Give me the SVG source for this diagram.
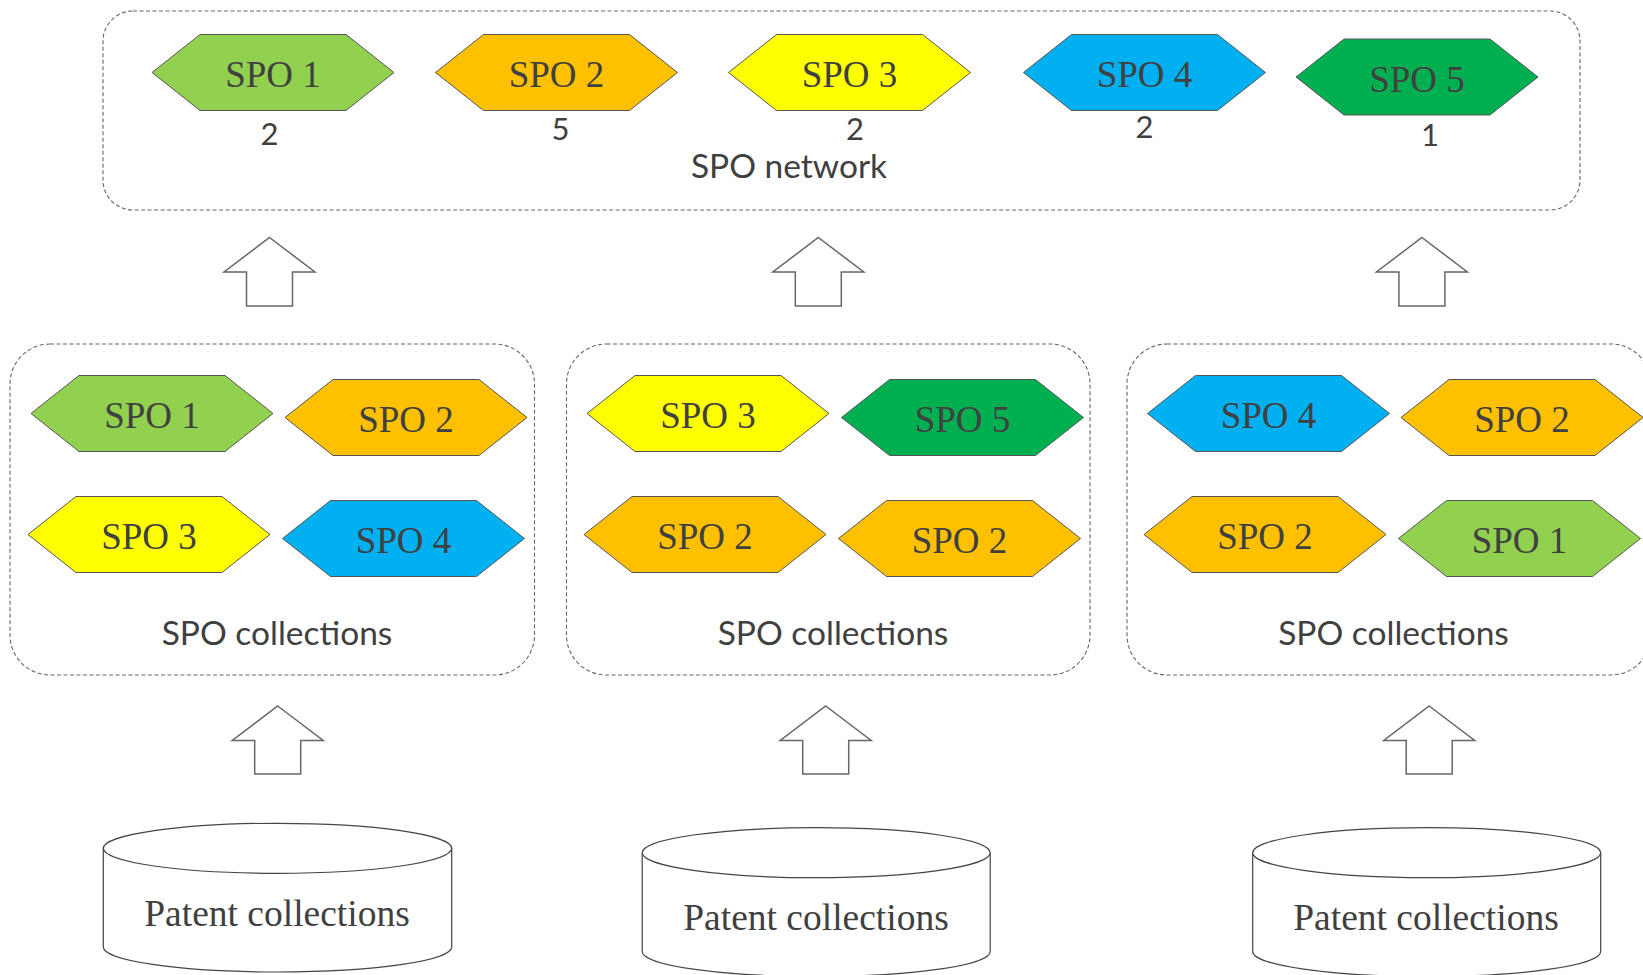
<svg xmlns="http://www.w3.org/2000/svg" xmlns:xlink="http://www.w3.org/1999/xlink" width="1643" height="975" viewBox="0 0 1643 975">
<style>
.box{fill:none;stroke:#666;stroke-width:1.1;stroke-dasharray:4 2.5}
.hex{stroke:#555;stroke-width:1}
.g{fill:#92D050}.o{fill:#FFC000}.y{fill:#FFFF00}.b{fill:#00B0F0}.dg{fill:#00B050}
.ht{font-family:"Liberation Serif","Times New Roman",serif;font-size:37px;fill:#404040;text-anchor:middle}
.st{font-family:Lato,"Liberation Sans",sans-serif;font-size:33.5px;fill:#404040;text-anchor:middle}
.nt{font-family:Lato,"Liberation Sans",sans-serif;font-size:31px;fill:#404040;text-anchor:middle}
.pt{font-family:"Liberation Serif","Times New Roman",serif;font-size:37.5px;fill:#404040;text-anchor:middle}
.arr{fill:#fff;stroke:#666;stroke-width:1.5;stroke-linejoin:miter}
.cyl{fill:#fff;stroke:#444;stroke-width:1.2}
</style>
<defs>
<polygon id="hex" points="0,38 48,0 194,0 242,38 194,76 48,76"/>
</defs>
<rect width="1643" height="975" fill="#fff"/>

<g id="spo-network">
<rect class="box" x="103" y="11" width="1477" height="199" rx="30"/>
<text class="st" x="789" y="178">SPO network</text>
</g>
<g id="net-spo1"><use href="#hex" class="hex g" x="152" y="34.5"/><text class="ht" x="273" y="87">SPO 1</text><text class="nt" x="269.5" y="145">2</text></g>
<g id="net-spo2"><use href="#hex" class="hex o" x="435.5" y="34.5"/><text class="ht" x="556.5" y="87">SPO 2</text><text class="nt" x="560.5" y="140">5</text></g>
<g id="net-spo3"><use href="#hex" class="hex y" x="728.5" y="34.5"/><text class="ht" x="849.5" y="87">SPO 3</text><text class="nt" x="855" y="140">2</text></g>
<g id="net-spo4"><use href="#hex" class="hex b" x="1023.5" y="34.5"/><text class="ht" x="1144.5" y="87">SPO 4</text><text class="nt" x="1144.5" y="137.5">2</text></g>
<g id="net-spo5"><use href="#hex" class="hex dg" x="1296" y="39"/><text class="ht" x="1417" y="91.5">SPO 5</text><text class="nt" x="1430" y="145.5">1</text></g>

<g id="collection-1">
<rect class="box" x="10" y="344" width="524.5" height="331" rx="40"/>
<use href="#hex" class="hex g" x="31" y="375.5"/><text class="ht" x="152" y="428">SPO 1</text>
<use href="#hex" class="hex o" x="285" y="379.5"/><text class="ht" x="406" y="432">SPO 2</text>
<use href="#hex" class="hex y" x="28" y="496.5"/><text class="ht" x="149" y="549">SPO 3</text>
<use href="#hex" class="hex b" x="282.5" y="500.5"/><text class="ht" x="403.5" y="553">SPO 4</text>
<text class="st" x="277" y="645">SPO collections</text>
</g>
<g id="collection-2">
<rect class="box" x="566.5" y="344" width="523.5" height="331" rx="40"/>
<use href="#hex" class="hex y" x="587" y="375.5"/><text class="ht" x="708" y="428">SPO 3</text>
<use href="#hex" class="hex dg" x="841.5" y="379.5"/><text class="ht" x="962.5" y="432">SPO 5</text>
<use href="#hex" class="hex o" x="584" y="496.5"/><text class="ht" x="705" y="549">SPO 2</text>
<use href="#hex" class="hex o" x="838.5" y="500.5"/><text class="ht" x="959.5" y="553">SPO 2</text>
<text class="st" x="833" y="645">SPO collections</text>
</g>
<g id="collection-3">
<rect class="box" x="1127" y="344" width="524" height="331" rx="40"/>
<use href="#hex" class="hex b" x="1147.5" y="375.5"/><text class="ht" x="1268.5" y="428">SPO 4</text>
<use href="#hex" class="hex o" x="1401" y="379.5"/><text class="ht" x="1522" y="432">SPO 2</text>
<use href="#hex" class="hex o" x="1144" y="496.5"/><text class="ht" x="1265" y="549">SPO 2</text>
<use href="#hex" class="hex g" x="1398.5" y="500.5"/><text class="ht" x="1519.5" y="553">SPO 1</text>
<text class="st" x="1393.5" y="645">SPO collections</text>
</g>

<g id="patents-1">
<path class="cyl" d="M103.3,848.3 L103.3,947 A174.2,25 0 0 0 451.7,947 L451.7,848.3"/>
<ellipse class="cyl" cx="277.5" cy="848.3" rx="174.2" ry="25"/>
<text class="pt" x="277" y="926">Patent collections</text>
</g>
<g id="patents-2">
<path class="cyl" d="M642.2,852.7 L642.2,951.5 A174,25 0 0 0 990.2,951.5 L990.2,852.7"/>
<ellipse class="cyl" cx="816.2" cy="852.7" rx="174" ry="25"/>
<text class="pt" x="816" y="929.5">Patent collections</text>
</g>
<g id="patents-3">
<path class="cyl" d="M1252.7,852.7 L1252.7,951.5 A174,25 0 0 0 1600.7,951.5 L1600.7,852.7"/>
<ellipse class="cyl" cx="1426.7" cy="852.7" rx="174" ry="25"/>
<text class="pt" x="1426" y="929.5">Patent collections</text>
</g>

<g id="connectors">
<path class="arr" d="M269.5,237.5 L315,272 L292.5,272 L292.5,306 L246.5,306 L246.5,272 L224,272 Z"/>
<path class="arr" d="M818.3,237.5 L863.8,272 L841.3,272 L841.3,306 L795.3,306 L795.3,272 L772.8,272 Z"/>
<path class="arr" d="M1421.9,237.5 L1467.4,272 L1444.9,272 L1444.9,306 L1398.9,306 L1398.9,272 L1376.4,272 Z"/>
<path class="arr" d="M277.7,706 L323.2,740.5 L300.7,740.5 L300.7,774 L254.7,774 L254.7,740.5 L232.2,740.5 Z"/>
<path class="arr" d="M825.7,706 L871.2,740.5 L848.7,740.5 L848.7,774 L802.7,774 L802.7,740.5 L780.2,740.5 Z"/>
<path class="arr" d="M1429.2,706 L1474.7,740.5 L1452.2,740.5 L1452.2,774 L1406.2,774 L1406.2,740.5 L1383.7,740.5 Z"/>
</g>
</svg>
